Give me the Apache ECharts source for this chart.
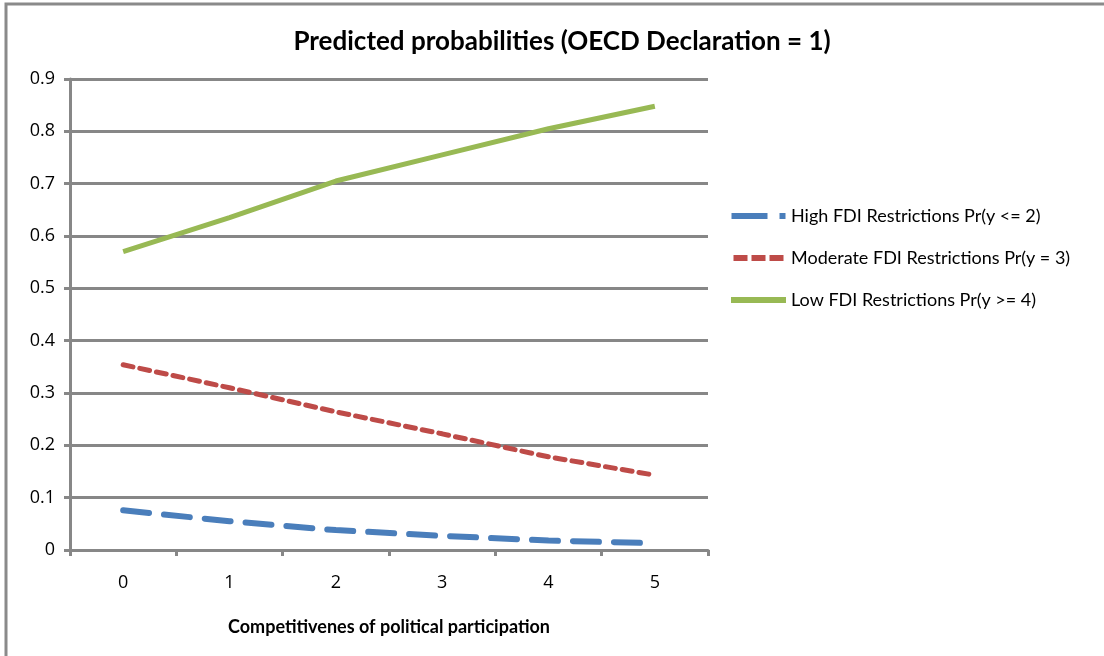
<!DOCTYPE html>
<html>
<head>
<meta charset="utf-8">
<script src="https://cdn.jsdelivr.net/npm/echarts@6/dist/echarts.min.js"></script>
<style>
  html, body { margin: 0; padding: 0; background: #fff; }
  #chart { width: 1104px; height: 656px; }
</style>
</head>
<body>
<div id="chart"></div>
<script>
// Competitiveness of political participation (x categories)
const categories = ['0', '1', '2', '3', '4', '5'];

// Predicted probabilities by FDI restriction level
const highRestrictions = [0.076, 0.055, 0.038, 0.027, 0.018, 0.013];
const moderateRestrictions = [0.354, 0.310, 0.264, 0.222, 0.178, 0.143];
const lowRestrictions = [0.570, 0.635, 0.705, 0.755, 0.805, 0.848];

const seriesNames = [
  'High FDI Restrictions Pr(y <= 2)',
  'Moderate FDI Restrictions Pr(y = 3)',
  'Low FDI Restrictions Pr(y >= 4)'
];

const COLORS = ['#4a7ebb', '#be4b48', '#98b954'];

// Legend keys: long dash + dot, three short dashes, solid bar
const legendIcons = [
  'path://M0,0 H36 V6 H0 Z M48,0 H54 V6 H48 Z',
  'path://M0,0 H14 V6 H0 Z M18,0 H32 V6 H18 Z M36,0 H50 V6 H36 Z',
  'path://M0,0 H56 V6 H0 Z'
];

const FONT = 'Lato, "Open Sans", sans-serif';
const TICK_FONT = '"Open Sans", Lato, sans-serif';
const GRID_COLOR = '#878787';

const chart = echarts.init(document.getElementById('chart'), null, { renderer: 'canvas' });

chart.setOption({
  backgroundColor: '#ffffff',
  animation: false,
  title: {
    text: 'Predicted probabilities (OECD Declaration = 1)',
    left: 557,
    textAlign: 'center',
    top: 24,
    textStyle: { fontFamily: FONT, fontSize: 26, fontWeight: 'bold', color: '#000' }
  },
  graphic: [
    {
      type: 'rect',
      shape: { x: 6, y: 4, width: 1200, height: 800 },
      style: { fill: 'none', stroke: '#8a8a8a', lineWidth: 3 },
      silent: true
    }
  ],
  legend: {
    orient: 'vertical',
    left: 726,
    top: 202,
    itemWidth: 55,
    itemHeight: 6,
    itemGap: 24,
    textStyle: { fontFamily: FONT, fontSize: 18, lineHeight: 18, color: '#000' },
    data: seriesNames.map((name, i) => ({
      name,
      icon: legendIcons[i],
      itemStyle: { color: COLORS[i], borderWidth: 0 }
    }))
  },
  grid: { left: 70, top: 79, right: 396, bottom: 106, containLabel: false },
  xAxis: {
    type: 'category',
    data: categories,
    boundaryGap: true,
    name: 'Competitivenes of political participation',
    nameLocation: 'middle',
    nameGap: 68,
    nameTextStyle: { fontFamily: FONT, fontSize: 18, fontWeight: 'bold', color: '#000' },
    axisLine: { lineStyle: { color: GRID_COLOR, width: 3 } },
    axisTick: { show: true, alignWithLabel: false, length: 6, lineStyle: { color: GRID_COLOR, width: 3 } },
    axisLabel: { margin: 24, fontFamily: TICK_FONT, fontSize: 18, color: '#000' },
    splitLine: { show: false }
  },
  yAxis: {
    type: 'value',
    min: 0,
    max: 0.9,
    interval: 0.1,
    axisLine: { show: true, lineStyle: { color: GRID_COLOR, width: 3 } },
    axisTick: { show: true, length: 6, lineStyle: { color: GRID_COLOR, width: 3 } },
    axisLabel: {
      margin: 15,
      fontFamily: TICK_FONT,
      fontSize: 18,
      color: '#000',
      formatter: v => (Math.round(v * 10) / 10).toString()
    },
    splitLine: { show: true, lineStyle: { color: GRID_COLOR, width: 3 } }
  },
  series: [
    {
      name: seriesNames[0],
      type: 'line',
      data: highRestrictions,
      symbol: 'none',
      color: COLORS[0],
      lineStyle: { color: COLORS[0], width: 6, type: [26, 15], cap: 'round' }
    },
    {
      name: seriesNames[1],
      type: 'line',
      data: moderateRestrictions,
      symbol: 'none',
      color: COLORS[1],
      lineStyle: { color: COLORS[1], width: 5, type: [10, 7], cap: 'round' }
    },
    {
      name: seriesNames[2],
      type: 'line',
      data: lowRestrictions,
      symbol: 'none',
      color: COLORS[2],
      lineStyle: { color: COLORS[2], width: 5 }
    }
  ]
});
</script>
</body>
</html>
